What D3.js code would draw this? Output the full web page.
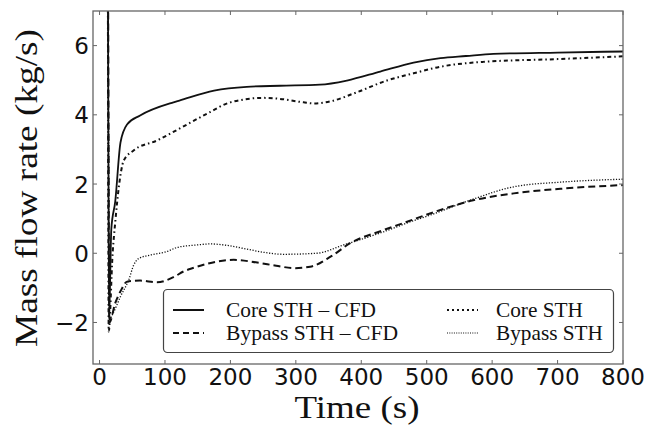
<!DOCTYPE html>
<html><head><meta charset="utf-8">
<script src="https://cdn.jsdelivr.net/npm/d3@7"></script>
<style>body{margin:0;background:#fff}svg{display:block}</style>
</head><body>
<script>
const xTicks = [0,100,200,300,400,500,600,700,800];
const yTicks = [-2,0,2,4,6];
const coreCfdT = [10,12,14.5,18,24,32,42,62,113,122,175,225,276,337,378,429,480,521,560,602,700,800];
const coreCfdV = [12,12,-1.9,0.7,1.5,3.2,3.72,3.98,4.36,4.41,4.70,4.81,4.84,4.87,4.99,5.25,5.51,5.64,5.70,5.76,5.80,5.83];
const bypCfdT = [10,12,15,24,32,42,62,88,113,129,144,170,205,241,270,297,322,353,383,434,470,505,571,633,709,800];
const bypCfdV = [12,12,-2.0,-1.44,-1.1,-0.82,-0.79,-0.84,-0.69,-0.52,-0.42,-0.28,-0.19,-0.27,-0.36,-0.43,-0.39,-0.1,0.29,0.67,0.91,1.15,1.53,1.73,1.87,1.97];
const coreSthT = [10,12,14,20,24,29.5,37,52,88,122,164,200,251,276,312,327,353,393,439,480,521,586,700,800];
const coreSthV = [12,12,-2.26,0.0,0.9,1.92,2.68,2.97,3.26,3.6,4.03,4.36,4.49,4.46,4.36,4.33,4.39,4.65,4.99,5.2,5.39,5.53,5.61,5.69];
const bypSthT = [10,12,15,21,32,45,52,60,78,103,119,149,169,190,220,250,281,332,373,434,475,505,566,633,709,800];
const bypSthV = [12,12,-1.9,-1.72,-1.25,-0.75,-0.35,-0.15,-0.05,0.05,0.17,0.24,0.27,0.24,0.14,0.03,-0.03,0,0.24,0.62,0.91,1.1,1.53,1.92,2.06,2.14];
const seriesNames = ["Core STH \u2013 CFD","Bypass STH \u2013 CFD","Core STH","Bypass STH"];

const W=651,H=428, L=93,R=623,T=11,B=364;
const svg=d3.select("body").append("svg").attr("width",W).attr("height",H);
const x=d3.scaleLinear().domain([-10,800]).range([L,R]);
const y=d3.scaleLinear().domain([-3.2,7]).range([B,T]);
svg.append("defs").append("clipPath").attr("id","c").append("rect").attr("x",L).attr("y",T).attr("width",R-L).attr("height",B-T);

const styles=[
 {dash:null,w:1.8},
 {dash:"7,4",w:2},
 {dash:"4,3,1.5,3",w:2},
 {dash:"1.2,1.6",w:1.3}
];
const data=[[coreCfdT,coreCfdV],[bypCfdT,bypCfdV],[coreSthT,coreSthV],[bypSthT,bypSthV]];
const line=d3.line().x(d=>x(d[0])).y(d=>y(d[1])).curve(d3.curveMonotoneX);
const g=svg.append("g").attr("clip-path","url(#c)");
data.forEach((s,i)=>{
  const pts=s[0].map((t,j)=>[t,s[1][j]]);
  g.append("path").attr("d",line(pts)).attr("fill","none").attr("stroke","#111")
   .attr("stroke-width",styles[i].w).attr("stroke-dasharray",styles[i].dash);
});

// frame
svg.append("rect").attr("x",L).attr("y",T).attr("width",R-L).attr("height",B-T).attr("fill","none").attr("stroke","#666").attr("stroke-width",1.3);
const tl=4;
const ax=svg.append("g").attr("stroke","#666").attr("stroke-width",1);
xTicks.forEach(v=>{ax.append("line").attr("x1",x(v)).attr("x2",x(v)).attr("y1",B).attr("y2",B-tl);
 ax.append("line").attr("x1",x(v)).attr("x2",x(v)).attr("y1",T).attr("y2",T+tl);});
yTicks.forEach(v=>{ax.append("line").attr("x1",L).attr("x2",L+tl).attr("y1",y(v)).attr("y2",y(v));
 ax.append("line").attr("x1",R).attr("x2",R-tl).attr("y1",y(v)).attr("y2",y(v));});
svg.append("g").selectAll("text").data(xTicks).join("text").attr("x",d=>x(d)).attr("y",385)
 .attr("text-anchor","middle").attr("font-family","DejaVu Sans").attr("font-size",23).attr("fill","#111").text(d=>d);
svg.append("g").selectAll("text").data(yTicks).join("text").attr("x",89).attr("y",d=>y(d)+8.5)
 .attr("text-anchor","end").attr("font-family","DejaVu Sans").attr("font-size",23).attr("fill","#111").text(d=>d<0?"\u2212"+(-d):d);
svg.append("text").attr("x",357).attr("y",418).attr("text-anchor","middle").attr("font-family","Liberation Serif")
 .attr("font-size",31).attr("fill","#111").attr("textLength",125).attr("lengthAdjust","spacingAndGlyphs").text("Time (s)");
svg.append("text").attr("transform","translate(37,188) rotate(-90)").attr("text-anchor","middle").attr("font-family","Liberation Serif")
 .attr("font-size",32).attr("fill","#111").attr("textLength",318).attr("lengthAdjust","spacingAndGlyphs").text("Mass flow rate (kg/s)");

// legend
const lg=svg.append("g");
lg.append("rect").attr("x",163.5).attr("y",289.5).attr("width",450).attr("height",63).attr("rx",4).attr("fill","#fff").attr("stroke","#444").attr("stroke-width",1.2);
const legPos=[[173,226,310],[173,226,333],[447,496,310],[447,496,333]];
const legLen=[150,172,87,107];
const legDash=[null,"6,4","2,3","1,1.3"];
seriesNames.forEach((n,i)=>{
  const p=legPos[i];
  lg.append("line").attr("x1",p[0]).attr("x2",p[0]+31).attr("y1",p[2]).attr("y2",p[2]).attr("stroke","#111")
   .attr("stroke-width",i==3?1.2:2).attr("stroke-dasharray",legDash[i]);
  lg.append("text").attr("x",p[1]).attr("y",p[2]+7).attr("font-family","Liberation Serif").attr("font-size",21).attr("fill","#111")
   .attr("textLength",legLen[i]).attr("lengthAdjust","spacingAndGlyphs").text(n);
});
</script>
</body></html>
